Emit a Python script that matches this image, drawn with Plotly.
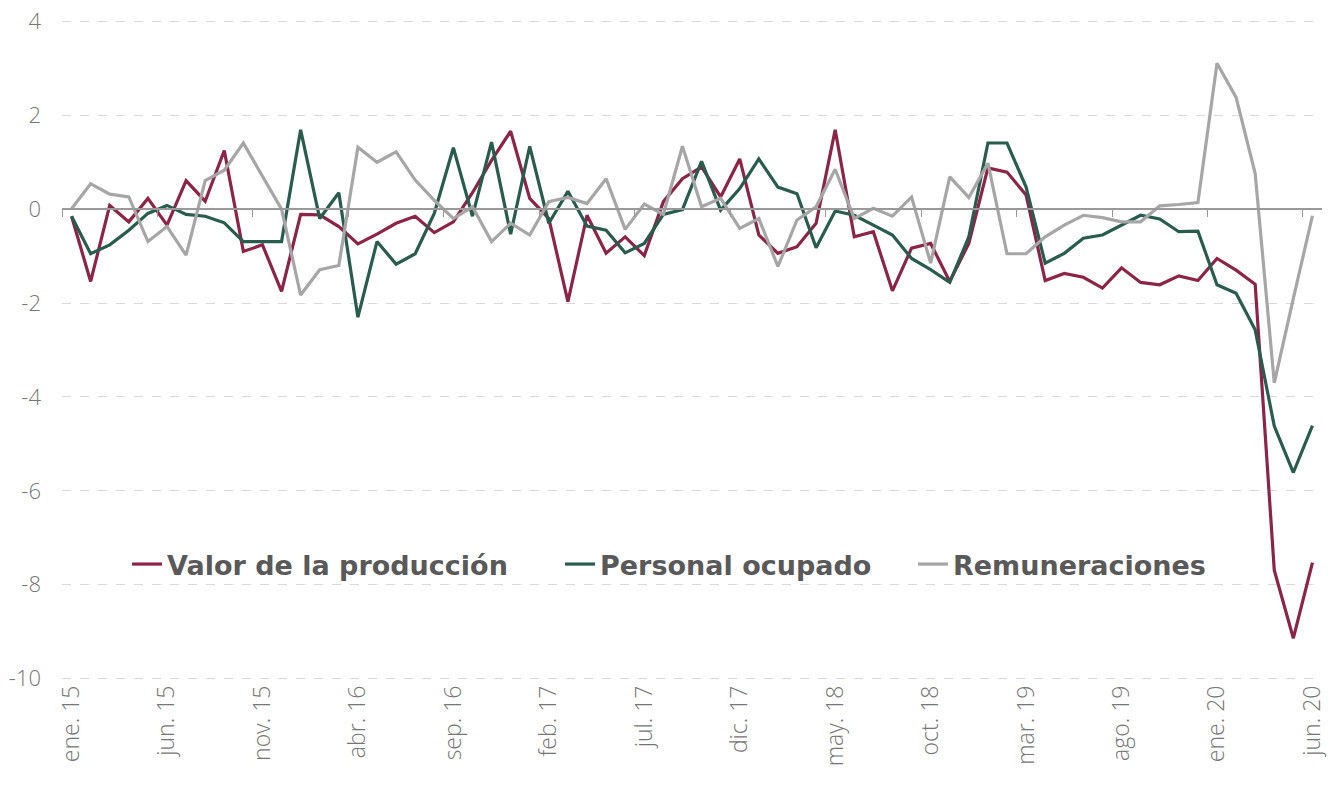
import plotly.graph_objects as go

months = ["ene.", "feb.", "mar.", "abr.", "may.", "jun.", "jul.", "ago.", "sep.", "oct.", "nov.", "dic."]
periods = [f"{months[m]} {y}" for y in range(15, 21) for m in range(12)][:66]

valor_produccion = [
    -0.15, -1.54, 0.08, -0.27, 0.23, -0.34, 0.61, 0.17, 1.25, -0.90,
    -0.76, -1.75, -0.11, -0.12, -0.37, -0.74, -0.53, -0.30, -0.15, -0.50,
    -0.27, 0.35, 1.04, 1.66, 0.23, -0.20, -1.97, -0.13, -0.94, -0.59,
    -0.99, 0.16, 0.65, 0.90, 0.26, 1.07, -0.55, -0.94, -0.80, -0.30,
    1.69, -0.59, -0.48, -1.74, -0.83, -0.73, -1.54, -0.73, 0.88, 0.79,
    0.30, -1.52, -1.37, -1.45, -1.68, -1.25, -1.56, -1.61, -1.42, -1.52,
    -1.05, -1.30, -1.60, -7.69, -9.14, -7.53,
]
personal_ocupado = [
    -0.15, -0.95, -0.76, -0.45, -0.09, 0.08, -0.11, -0.15, -0.29, -0.69,
    -0.69, -0.69, 1.69, -0.20, 0.35, -2.30, -0.69, -1.17, -0.95, -0.09,
    1.31, -0.15, 1.43, -0.53, 1.34, -0.30, 0.38, -0.36, -0.45, -0.93,
    -0.73, -0.11, -0.01, 1.02, -0.02, 0.44, 1.07, 0.47, 0.33, -0.82,
    -0.04, -0.13, -0.34, -0.55, -1.05, -1.29, -1.56, -0.59, 1.41, 1.41,
    0.47, -1.15, -0.94, -0.62, -0.55, -0.34, -0.13, -0.21, -0.48, -0.47,
    -1.61, -1.79, -2.57, -4.62, -5.61, -4.61,
]
remuneraciones = [
    0.01, 0.54, 0.32, 0.26, -0.69, -0.37, -0.98, 0.61, 0.83, 1.41,
    0.70, 0.00, -1.83, -1.29, -1.20, 1.32, 1.00, 1.22, 0.62, 0.19,
    -0.20, 0.05, -0.69, -0.30, -0.55, 0.16, 0.25, 0.12, 0.65, -0.43,
    0.11, -0.11, 1.34, 0.05, 0.23, -0.41, -0.20, -1.22, -0.23, 0.05,
    0.85, -0.20, 0.02, -0.15, 0.26, -1.15, 0.69, 0.25, 0.98, -0.95,
    -0.95, -0.59, -0.34, -0.13, -0.18, -0.27, -0.27, 0.07, 0.10, 0.14,
    3.11, 2.38, 0.76, -3.70, -1.90, -0.14,
]

y_ticks = [-10, -8, -6, -4, -2, 0, 2, 4]
y_tick_text = [str(v) for v in y_ticks]   # plain hyphen, as in the original
label_step = 5

idx = list(range(len(periods)))
tick_idx = idx[::label_step]
tick_text = [periods[i] for i in tick_idx]

X_TICK_FONT = dict(family="Open Sans", size=23, color="#767676", weight=300)
Y_TICK_FONT = dict(family="Open Sans", size=22, color="#767676", weight=300)
LEG_FONT = dict(family="DejaVu Sans", size=27, color="#595959", weight=700)
GRID = "#d9d9d9"

fig = go.Figure()
series = [
    ("Valor de la producción", valor_produccion, "#8c2448", "legend"),
    ("Personal ocupado", personal_ocupado, "#285c4d", "legend2"),
    ("Remuneraciones", remuneraciones, "#a6a6a6", "legend3"),
]
for name, vals, col, leg in series:
    fig.add_trace(go.Scatter(x=idx, y=vals, mode="lines", name=name, legend=leg,
                             line=dict(color=col, width=3.2), hoverinfo="skip"))

# invisible trace so the zero-crossing axis (with tick marks) is rendered
fig.add_trace(go.Scatter(x=[idx[0]], y=[0], xaxis="x2", mode="lines",
                         showlegend=False, hoverinfo="skip", opacity=0))

pad = 0.03
ymin, ymax = min(y_ticks) - pad, max(y_ticks) + pad
W, H = 1334, 791
L, R, T, B = 62, 12, 20, 111
pw = W - L - R


def leg(text_left_px):
    return dict(orientation="h", x=(text_left_px - 40 - L) / pw, xanchor="left",
                y=0.175, yanchor="middle", bgcolor="rgba(0,0,0,0)",
                font=LEG_FONT, itemwidth=30)


fig.update_layout(
    width=W, height=H,
    paper_bgcolor="white", plot_bgcolor="white",
    margin=dict(l=L, r=R, t=T, b=B, autoexpand=False),
    showlegend=True,
    legend=leg(167), legend2=leg(600), legend3=leg(953),
    xaxis=dict(range=[-0.5, len(idx) - 0.5], tickmode="array", tickvals=tick_idx,
               ticktext=tick_text, tickangle=-90, tickfont=X_TICK_FONT, automargin=False,
               showgrid=False, zeroline=False, showline=False, ticks="",
               ticklabeloverflow="allow"),
    xaxis2=dict(overlaying="x", matches="x", anchor="free",
                position=(0 - ymin) / (ymax - ymin),
                tickmode="array", tickvals=[i - 0.5 for i in tick_idx],
                showticklabels=False, ticks="outside", ticklen=7, tickwidth=1.3,
                tickcolor="#999999", showline=True, linecolor="#999999", linewidth=1.5,
                showgrid=False, zeroline=False, automargin=False),
    yaxis=dict(range=[ymin, ymax], tickmode="array", tickvals=y_ticks, ticktext=y_tick_text,
               tickfont=Y_TICK_FONT, showgrid=True, gridcolor=GRID, griddash="dash",
               gridwidth=1, zeroline=False, showline=False, ticks="", automargin=False,
               ticklabelstandoff=20, ticklabeloverflow="allow"),
)

fig.write_html("out.html", config={"displayModeBar": False},
               post_script="document.body.style.margin='0';document.body.style.overflow='hidden';")
